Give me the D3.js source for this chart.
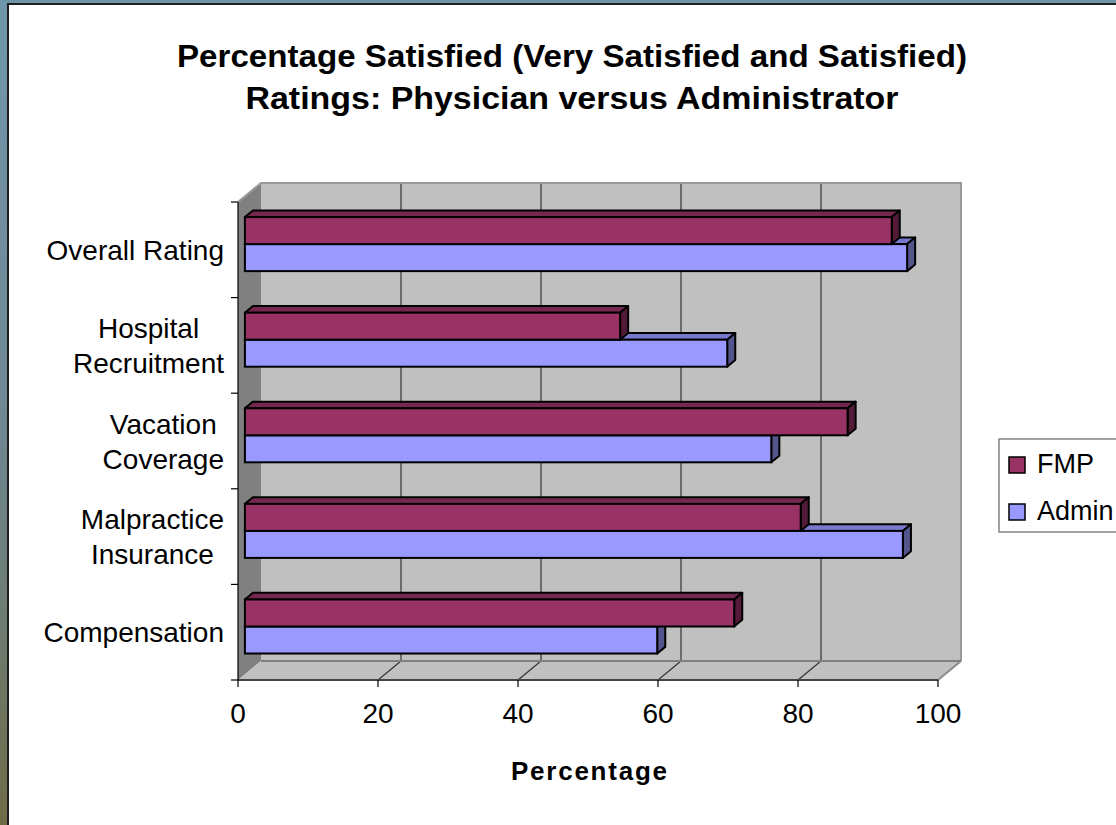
<!DOCTYPE html>
<html>
<head>
<meta charset="utf-8">
<script src="https://cdn.jsdelivr.net/npm/d3@7/dist/d3.min.js"></script>
<style>
body { margin: 0; background: #fff; }
svg text { font-family: "Liberation Sans", Arial, sans-serif; fill: #000; }
</style>
</head>
<body>
<svg id="chart" width="1116" height="825"></svg>
<script>
// values
var categories = ["Overall Rating", "Hospital Recruitment", "Vacation Coverage", "Malpractice Insurance", "Compensation"];
var catLines = [["Overall Rating"], ["Hospital", "Recruitment"], ["Vacation", "Coverage"], ["Malpractice", "Insurance"], ["Compensation"]];
var seriesNames = ["FMP", "Admin"];
var fmpValues = [92.4, 53.6, 86.1, 79.4, 69.9];
var adminValues = [94.6, 68.9, 75.2, 94.0, 58.9];
var xTicks = [0, 20, 40, 60, 80, 100];
var titleLines = ["Percentage Satisfied (Very Satisfied and Satisfied)", "Ratings: Physician versus Administrator"];
var xTitle = "Percentage";

var colors = {
	FMP: {front: "#993366", top: "#74284f", side: "#531b37"},
	Admin: {front: "#9999ff", top: "#7878cc", side: "#55558e"}
};

var svg = d3.select("#chart");

// frame
var defs = svg.append("defs");
var grad = defs.append("linearGradient").attr("id", "leftband").attr("x1", 0).attr("y1", 0).attr("x2", 0).attr("y2", 1);
grad.append("stop").attr("offset", 0).attr("stop-color", "#7096ab");
grad.append("stop").attr("offset", 0.5).attr("stop-color", "#6f8894");
grad.append("stop").attr("offset", 0.75).attr("stop-color", "#6e7c72");
grad.append("stop").attr("offset", 1).attr("stop-color", "#6f6b45");
svg.append("rect").attr("x", 0).attr("y", 0).attr("width", 1116).attr("height", 4).style("fill", "#6f94a8");
svg.append("rect").attr("x", 0).attr("y", 0).attr("width", 7).attr("height", 825).style("fill", "url(#leftband)");
svg.append("rect").attr("x", 7).attr("y", 3).attr("width", 1109).attr("height", 2).style("fill", "#1f1f1f");
svg.append("rect").attr("x", 7).attr("y", 3).attr("width", 2).attr("height", 822).style("fill", "#1f1f1f");

// 3d plot geometry
var x = d3.scaleLinear().domain([0, 100]).range([238, 938]);
var y = d3.scaleBand().domain(categories).range([202, 680]);
var ddx = 23, ddy = -19;   // depth of the plot box
var f1 = 0.3, f2 = 0.65;   // bar front / back depth

var yTop = y.range()[0], yBot = y.range()[1];
var x0 = x(0), x1 = x(100);

function poly(pts) { return pts.map(function(p) { return p.join(","); }).join(" "); }

// back wall
svg.append("polygon")
	.attr("points", poly([[x0+ddx, yTop+ddy], [x1+ddx, yTop+ddy], [x1+ddx, yBot+ddy], [x0+ddx, yBot+ddy]]))
	.style("fill", "#c0c0c0");
// left wall
svg.append("polygon")
	.attr("points", poly([[x0, yTop], [x0+ddx, yTop+ddy], [x0+ddx, yBot+ddy], [x0, yBot]]))
	.style("fill", "#808080");
// floor
svg.append("polygon")
	.attr("points", poly([[x0, yBot], [x0+ddx, yBot+ddy], [x1+ddx, yBot+ddy], [x1, yBot]]))
	.style("fill", "#c0c0c0");

// gridlines
xTicks.filter(function(d) { return d > 0 && d < 100; }).forEach(function(t) {
	svg.append("line")
		.attr("x1", x(t)+ddx).attr("y1", yTop+ddy).attr("x2", x(t)+ddx).attr("y2", yBot+ddy)
		.style("stroke", "#333").style("stroke-width", 1.2);
});
xTicks.filter(function(d) { return d > 0; }).forEach(function(t) {
	svg.append("line")
		.attr("x1", x(t)).attr("y1", yBot).attr("x2", x(t)+ddx).attr("y2", yBot+ddy)
		.style("stroke", t == 100 ? "#8a8a8a" : "#333").style("stroke-width", t == 100 ? 2 : 1.2);
});
// wall edges
svg.append("polyline")
	.attr("points", poly([[x0, yTop], [x0+ddx, yTop+ddy], [x1+ddx, yTop+ddy], [x1+ddx, yBot+ddy]]))
	.style("fill", "none").style("stroke", "#9a9a9a").style("stroke-width", 2);
svg.append("line")
	.attr("x1", x0+ddx).attr("y1", yBot+ddy).attr("x2", x1+ddx).attr("y2", yBot+ddy)
	.style("stroke", "#808080").style("stroke-width", 2);
svg.append("line")
	.attr("x1", x0).attr("y1", yBot).attr("x2", x1).attr("y2", yBot)
	.style("stroke", "#8a8a8a").style("stroke-width", 2);

// bars
var barH = y.bandwidth() * 0.2825;
var bx = ddx*f1, by = ddy*f1;
var dx2 = ddx*(f2-f1), dy2 = ddy*(f2-f1);

function draw_bar(value, top, c) {
	var xa = x(0)+bx, xb = x(value)+bx, ya = top+by, yb = ya+barH;
	svg.append("polygon")
		.attr("points", poly([[xa, ya], [xb, ya], [xb+dx2, ya+dy2], [xa+dx2, ya+dy2]]))
		.style("fill", c.top).style("stroke", "#000").style("stroke-width", 2).style("stroke-linejoin", "round");
	svg.append("polygon")
		.attr("points", poly([[xb, ya], [xb+dx2, ya+dy2], [xb+dx2, yb+dy2], [xb, yb]]))
		.style("fill", c.side).style("stroke", "#000").style("stroke-width", 2).style("stroke-linejoin", "round");
	svg.append("rect")
		.attr("x", xa).attr("y", ya).attr("width", xb-xa).attr("height", barH)
		.style("fill", c.front).style("stroke", "#000").style("stroke-width", 2);
}

categories.forEach(function(cat, i) {
	var mid = y(cat) + y.bandwidth()/2;
	draw_bar(adminValues[i], mid, colors.Admin);
	draw_bar(fmpValues[i], mid - barH, colors.FMP);
});

// axes
svg.append("line").attr("x1", x0).attr("y1", yTop).attr("x2", x0).attr("y2", yBot)
	.style("stroke", "#000").style("stroke-width", 1.2);
svg.append("line").attr("x1", x0).attr("y1", yBot).attr("x2", x1).attr("y2", yBot)
	.style("stroke", "#000").style("stroke-width", 1.2);
categories.concat(["end"]).forEach(function(cat, i) {
	var yy = i < categories.length ? y(cat) : yBot;
	svg.append("line").attr("x1", x0-7).attr("y1", yy).attr("x2", x0).attr("y2", yy)
		.style("stroke", "#000").style("stroke-width", 1.2);
});
xTicks.forEach(function(t) {
	svg.append("line").attr("x1", x(t)).attr("y1", yBot).attr("x2", x(t)).attr("y2", yBot+7)
		.style("stroke", "#000").style("stroke-width", 1.2);
	svg.append("text")
		.attr("x", x(t)).attr("y", 723)
		.attr("text-anchor", "middle")
		.style("font-size", "28px")
		.text(t);
});

// category labels, block right aligned, lines centred
catLines.forEach(function(lines, i) {
	var mid = y(categories[i]) + y.bandwidth()/2;
	var g = svg.append("g");
	var texts = lines.map(function(l, j) {
		return g.append("text")
			.attr("y", mid + 10 + (j - (lines.length-1)/2)*35)
			.attr("text-anchor", "middle")
			.style("font-size", "28px")
			.text(l);
	});
	var w = d3.max(texts, function(t) { return t.node().getComputedTextLength(); });
	texts.forEach(function(t) { t.attr("x", 224 - w/2); });
});

// title
svg.append("text").attr("x", 572).attr("y", 67).attr("text-anchor", "middle")
	.attr("textLength", 790).attr("lengthAdjust", "spacingAndGlyphs")
	.style("font-size", "32px").style("font-weight", "bold").text(titleLines[0]);
svg.append("text").attr("x", 572).attr("y", 109).attr("text-anchor", "middle")
	.attr("textLength", 653).attr("lengthAdjust", "spacingAndGlyphs")
	.style("font-size", "32px").style("font-weight", "bold").text(titleLines[1]);

// x title
svg.append("text").attr("x", 589).attr("y", 780).attr("text-anchor", "middle")
	.attr("textLength", 156).attr("lengthAdjust", "spacing")
	.style("font-size", "26px").style("font-weight", "bold").text(xTitle);

// legend
svg.append("rect").attr("x", 999).attr("y", 439).attr("width", 150).attr("height", 93)
	.style("fill", "#fff").style("stroke", "#666").style("stroke-width", 1.2);
seriesNames.forEach(function(s, i) {
	svg.append("rect").attr("x", 1009).attr("y", 457 + i*47).attr("width", 16).attr("height", 16)
		.style("fill", colors[s].front).style("stroke", "#000").style("stroke-width", 1.5);
	svg.append("text").attr("x", 1037).attr("y", 473 + i*47)
		.style("font-size", "27px").text(s);
});
</script>
</body>
</html>
